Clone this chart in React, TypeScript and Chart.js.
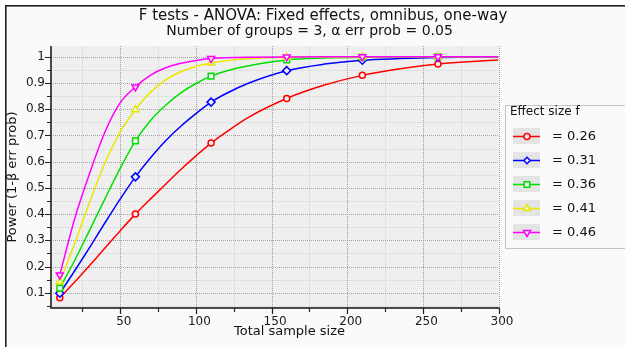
import React, { useEffect, useRef } from "react";
import { Chart, registerables } from "chart.js";
Chart.register(...registerables);

const titleText = "F tests - ANOVA: Fixed effects, omnibus, one-way";
const subtitleText = "Number of groups = 3, α err prob = 0.05";
const xTitle = "Total sample size";
const yTitle = "Power (1-β err prob)";
const legendTitle = "Effect size f";

const sampleSizes = [10, 20, 30, 40, 50, 60, 70, 80, 90, 100, 110, 120, 135, 160, 185, 210, 235, 260, 280, 300];
const markerSizes = [10, 60, 110, 160, 210, 260];
const effectSizes = ["0.26", "0.31", "0.36", "0.41", "0.46"];

const power026 = [0.081, 0.142, 0.206, 0.272, 0.337, 0.4, 0.458, 0.514, 0.57, 0.622, 0.671, 0.713, 0.77, 0.841, 0.892, 0.929, 0.954, 0.972, 0.981, 0.988];
const power031 = [0.098, 0.185, 0.275, 0.368, 0.458, 0.542, 0.615, 0.68, 0.735, 0.783, 0.827, 0.86, 0.9, 0.947, 0.972, 0.987, 0.993, 0.997, 0.998, 0.999];
const power036 = [0.118, 0.225, 0.342, 0.46, 0.575, 0.679, 0.757, 0.815, 0.862, 0.898, 0.926, 0.946, 0.966, 0.988, 0.995, 0.998, 0.999, 1.0, 1.0, 1.0];
const power041 = [0.142, 0.29, 0.45, 0.597, 0.714, 0.798, 0.865, 0.912, 0.943, 0.963, 0.976, 0.985, 0.992, 0.998, 0.999, 1.0, 1.0, 1.0, 1.0, 1.0];
const power046 = [0.168, 0.385, 0.56, 0.715, 0.825, 0.885, 0.93, 0.958, 0.975, 0.986, 0.993, 0.996, 0.998, 0.9995, 1.0, 1.0, 1.0, 1.0, 1.0, 1.0];
const powerSeries = [power026, power031, power036, power041, power046];

const seriesColors = ["#ff0000", "#0000ff", "#00e000", "#e8e800", "#ff00ff"];
const pointStyles = ["circle", "rectRot", "rect", "triangle", "triangle"];
const pointRotations = [0, 0, 0, 0, 180];

const xMin = 4.2;
const xMax = 300;
const yMin = 0.042;
const yMax = 1.041;
const xMajorTicks = [50, 100, 150, 200, 250, 300];
const xMinorTicks = [25, 75, 125, 175, 225, 275];
const yMajorTicks = [0.1, 0.2, 0.3, 0.4, 0.5, 0.6, 0.7, 0.8, 0.9, 1];
const yMajorLabels = ["0.1", "0.2", "0.3", "0.4", "0.5", "0.6", "0.7", "0.8", "0.9", "1"];
const yMinorTicks = [0.05, 0.15, 0.25, 0.35, 0.45, 0.55, 0.65, 0.75, 0.85, 0.95];

const FONT = "'DejaVu Sans', sans-serif";

function drawMarker(ctx: CanvasRenderingContext2D, style: string, rot: number, cx: number, cy: number, color: string) {
  ctx.save();
  ctx.strokeStyle = color;
  ctx.fillStyle = "#f2f2f2";
  ctx.lineWidth = 1.5;
  ctx.beginPath();
  if (style === "circle") {
    ctx.arc(cx, cy, 3, 0, Math.PI * 2);
  } else if (style === "rectRot") {
    const r = 3.2;
    ctx.moveTo(cx, cy - r);
    ctx.lineTo(cx + r, cy);
    ctx.lineTo(cx, cy + r);
    ctx.lineTo(cx - r, cy);
    ctx.closePath();
  } else if (style === "rect") {
    const s = 2.8;
    ctx.rect(cx - s, cy - s, 2 * s, 2 * s);
  } else {
    const r = 4;
    const sgn = rot === 180 ? -1 : 1;
    ctx.moveTo(cx, cy - sgn * r);
    ctx.lineTo(cx + r * 0.87, cy + sgn * r * 0.5);
    ctx.lineTo(cx - r * 0.87, cy + sgn * r * 0.5);
    ctx.closePath();
  }
  ctx.fill();
  ctx.stroke();
  ctx.restore();
}

const decorPlugin = {
  id: "decor",
  beforeDraw(chart: any) {
    const { ctx, chartArea: a, scales } = chart;
    const x = scales.x;
    const y = scales.y;
    ctx.save();
    ctx.fillStyle = "#ffffff";
    ctx.fillRect(0, 0, chart.width, chart.height);
    ctx.fillStyle = "#fafafa";
    ctx.fillRect(6, 6, chart.width - 6, chart.height - 6);
    ctx.fillStyle = "#222222";
    ctx.fillRect(5, 5, chart.width - 5, 1.6);
    ctx.fillRect(5, 5, 1.6, chart.height - 5);

    ctx.fillStyle = "#efefef";
    ctx.fillRect(a.left, a.top, a.right - a.left, a.bottom - a.top);

    ctx.strokeStyle = "#e0e0e0";
    ctx.lineWidth = 1;
    ctx.beginPath();
    for (const v of xMinorTicks) {
      const px = Math.round(x.getPixelForValue(v)) + 0.5;
      ctx.moveTo(px, a.top);
      ctx.lineTo(px, a.bottom);
    }
    for (const v of yMinorTicks) {
      const py = Math.round(y.getPixelForValue(v)) + 0.5;
      ctx.moveTo(a.left, py);
      ctx.lineTo(a.right, py);
    }
    ctx.stroke();

    ctx.strokeStyle = "#a0a0a0";
    ctx.setLineDash([1, 1]);
    ctx.beginPath();
    for (const v of xMajorTicks) {
      const px = Math.round(x.getPixelForValue(v)) + 0.5;
      ctx.moveTo(px, a.top);
      ctx.lineTo(px, a.bottom);
    }
    for (const v of yMajorTicks) {
      const py = Math.round(y.getPixelForValue(v)) + 0.5;
      ctx.moveTo(a.left, py);
      ctx.lineTo(a.right, py);
    }
    ctx.stroke();
    ctx.setLineDash([]);
    ctx.restore();
  },
  afterDraw(chart: any) {
    const { ctx, chartArea: a, scales } = chart;
    const x = scales.x;
    const y = scales.y;
    ctx.save();

    ctx.strokeStyle = "#4a4a4a";
    ctx.lineWidth = 2;
    ctx.beginPath();
    ctx.moveTo(a.left, a.top);
    ctx.lineTo(a.left, a.bottom);
    ctx.lineTo(a.right + 1, a.bottom);
    ctx.stroke();

    ctx.lineWidth = 1.2;
    ctx.strokeStyle = "#222";
    ctx.beginPath();
    for (const v of xMajorTicks) {
      const px = Math.round(x.getPixelForValue(v)) + 0.5;
      ctx.moveTo(px, a.bottom);
      ctx.lineTo(px, a.bottom + 6);
    }
    for (const v of xMinorTicks) {
      const px = Math.round(x.getPixelForValue(v)) + 0.5;
      ctx.moveTo(px, a.bottom);
      ctx.lineTo(px, a.bottom + 4);
    }
    for (const v of yMajorTicks) {
      const py = Math.round(y.getPixelForValue(v)) + 0.5;
      ctx.moveTo(a.left, py);
      ctx.lineTo(a.left - 6, py);
    }
    for (const v of yMinorTicks) {
      const py = Math.round(y.getPixelForValue(v)) + 0.5;
      ctx.moveTo(a.left, py);
      ctx.lineTo(a.left - 4, py);
    }
    ctx.stroke();

    ctx.fillStyle = "#1a1a1a";
    ctx.font = `12px ${FONT}`;
    ctx.textAlign = "center";
    ctx.textBaseline = "alphabetic";
    for (const v of xMajorTicks) {
      ctx.fillText(String(v), x.getPixelForValue(v) + 3.5, 325);
    }
    ctx.textAlign = "right";
    ctx.textBaseline = "middle";
    yMajorTicks.forEach((v, i) => {
      ctx.fillText(yMajorLabels[i], a.left - 6, y.getPixelForValue(v));
    });

    ctx.fillStyle = "#111";
    ctx.font = `15px ${FONT}`;
    ctx.textAlign = "center";
    ctx.textBaseline = "alphabetic";
    ctx.fillText(titleText, 323, 20);
    ctx.font = `14px ${FONT}`;
    ctx.fillText(subtitleText, 309.5, 35);
    ctx.font = `13px ${FONT}`;
    ctx.fillText(xTitle, 289.5, 335);
    ctx.save();
    ctx.translate(13, (a.top + a.bottom) / 2);
    ctx.rotate(-Math.PI / 2);
    ctx.textBaseline = "middle";
    ctx.fillText(yTitle, 0, 0);
    ctx.restore();

    ctx.strokeStyle = "#c4c4c4";
    ctx.lineWidth = 1;
    ctx.strokeRect(505.5, 105.5, 130, 143);
    ctx.fillStyle = "#111";
    ctx.font = `12px ${FONT}`;
    ctx.textAlign = "left";
    ctx.textBaseline = "alphabetic";
    ctx.fillText(legendTitle, 510, 115);
    effectSizes.forEach((lab, i) => {
      const cy = 136 + i * 24;
      ctx.fillStyle = "#e4e4e4";
      ctx.fillRect(513, cy - 8, 27, 16);
      ctx.strokeStyle = seriesColors[i];
      ctx.lineWidth = 1.5;
      ctx.beginPath();
      ctx.moveTo(513, cy + 0.5);
      ctx.lineTo(540, cy + 0.5);
      ctx.stroke();
      drawMarker(ctx, pointStyles[i], pointRotations[i], 527, cy + 0.5, seriesColors[i]);
      ctx.fillStyle = "#111";
      ctx.font = `13px ${FONT}`;
      ctx.textBaseline = "middle";
      ctx.fillText("= " + lab, 552, cy + 0.5);
    });
    ctx.restore();
  },
};

export default function App() {
  const canvasRef = useRef<HTMLCanvasElement | null>(null);

  useEffect(() => {
    document.body.style.margin = "0";
    const canvas = canvasRef.current;
    if (!canvas) return;
    const datasets = powerSeries.map((vals, i) => ({
      label: "= " + effectSizes[i],
      data: sampleSizes.map((n, j) => ({ x: n, y: vals[j] })),
      borderColor: seriesColors[i],
      backgroundColor: "#f2f2f2",
      borderWidth: 1.5,
      pointStyle: pointStyles[i],
      pointRotation: pointRotations[i],
      pointRadius: sampleSizes.map((n) => (markerSizes.includes(n) ? (pointStyles[i] === "circle" ? 3 : 4) : 0)),
      pointBorderWidth: 1.5,
      pointBackgroundColor: "#f2f2f2",
      pointBorderColor: seriesColors[i],
      cubicInterpolationMode: "monotone" as const,
      order: 4 - i,
      fill: false,
    }));
    const chart = new Chart(canvas, {
      type: "line",
      data: { datasets },
      options: {
        responsive: false,
        animation: false,
        devicePixelRatio: 1,
        layout: { padding: { left: 51, right: 126.5, top: 46, bottom: 39 } },
        plugins: { legend: { display: false }, title: { display: false }, tooltip: { enabled: false } },
        scales: {
          x: { type: "linear", min: xMin, max: xMax, display: false },
          y: { type: "linear", min: yMin, max: yMax, display: false },
        },
      },
      plugins: [decorPlugin],
    });
    return () => chart.destroy();
  }, []);

  return (
    <div style={{ width: 625, height: 347 }}>
      <canvas ref={canvasRef} width={625} height={347} style={{ display: "block" }} />
    </div>
  );
}
